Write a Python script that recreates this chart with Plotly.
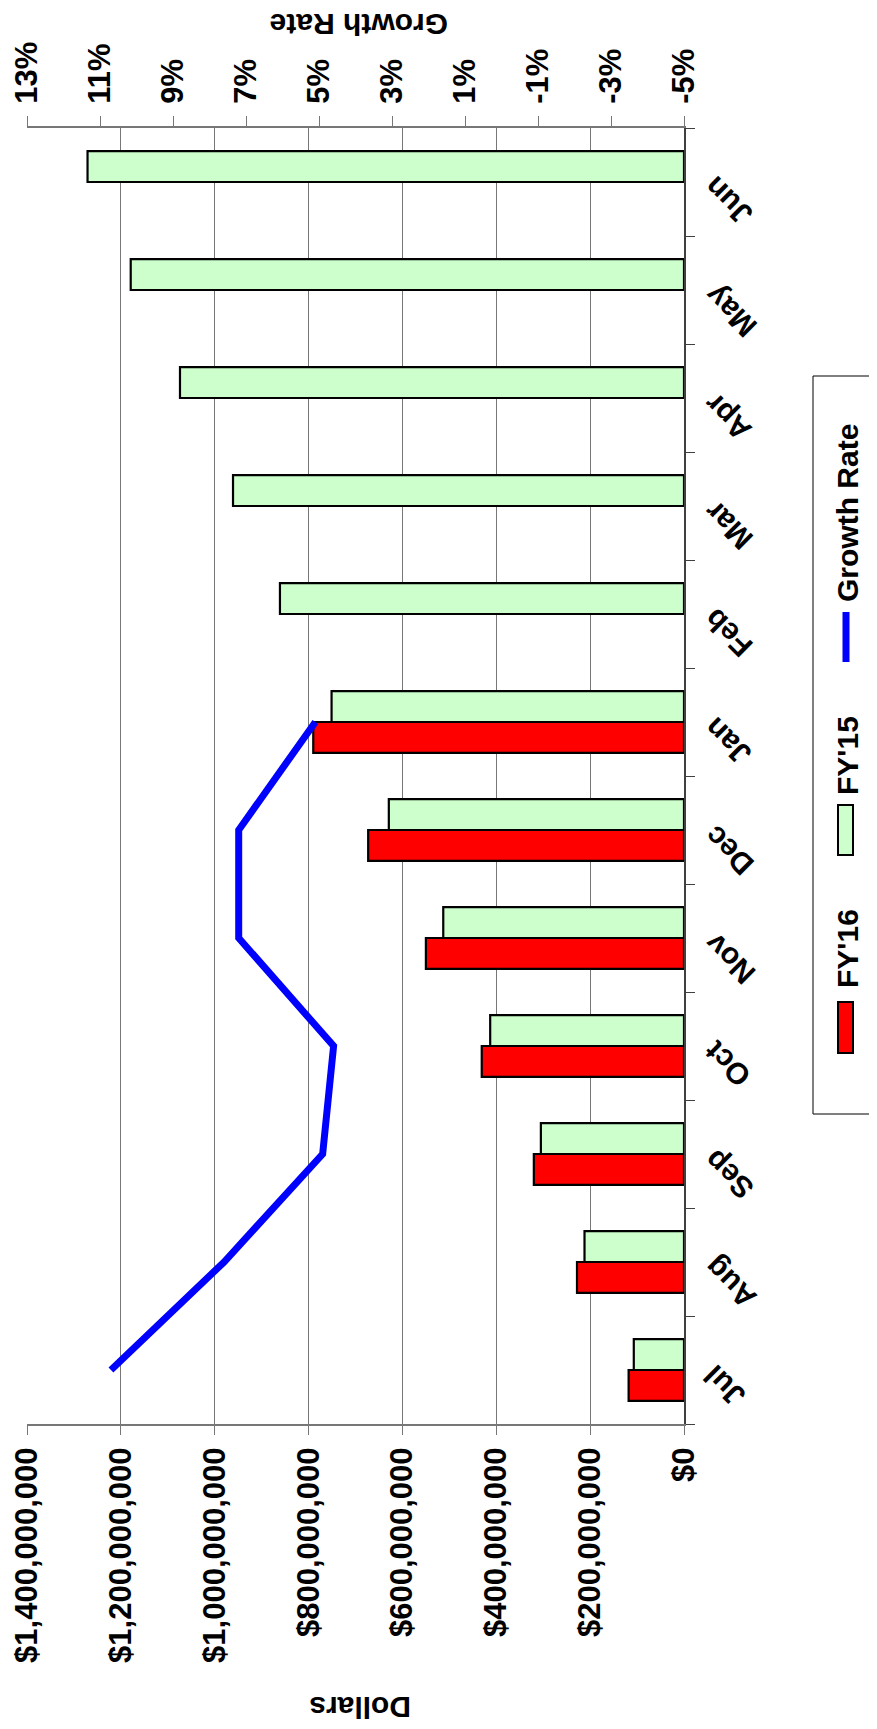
import plotly.graph_objects as go

# ---------------- data ----------------
months = ["Jul", "Aug", "Sep", "Oct", "Nov", "Dec", "Jan", "Feb", "Mar", "Apr", "May", "Jun"]
fy16 = [118e6, 228e6, 320e6, 431e6, 550e6, 673e6, 790e6]
fy15 = [107e6, 212e6, 305e6, 413e6, 513e6, 629e6, 751e6, 861e6, 961e6, 1074e6, 1179e6, 1271e6]
growth_months = ["Jul", "Aug", "Sep", "Oct", "Nov", "Dec", "Jan"]
growth = [10.7, 7.6, 4.9, 4.6, 7.2, 7.2, 5.1]
dollar_ticks = [0, 2e8, 4e8, 6e8, 8e8, 10e8, 12e8, 14e8]
dollar_ticktext = [f"${v:,.0f}" for v in dollar_ticks]
growth_ticks = [-5, -3, -1, 1, 3, 5, 7, 9, 11, 13]
growth_ticktext = [f"{v}%" for v in growth_ticks]

# ---------------- geometry ----------------
OFF = 8
W, H = 877 - OFF, 1729 - OFF
L, R, T, B = 27 - OFF, 684 - OFF, 128 - OFF, 1424 - OFF


def px(x):
    return ((x - OFF) - L) / (R - L)


def py(y):
    return (B - (y - OFF)) / (B - T)


FONT = "Arial, Liberation Sans, Helvetica, sans-serif"
bold = dict(family=FONT, size=30, color="black", weight="bold")
tickbold = dict(family=FONT, size=31, color="black", weight="bold")
GRAY = "#777777"

fig = go.Figure()
fig.add_trace(go.Bar(
    y=growth_months, x=fy16, orientation="h", name="FY'16",
    marker=dict(color="#FF0000", line=dict(color="black", width=2.2)),
))
fig.add_trace(go.Bar(
    y=months, x=fy15, orientation="h", name="FY'15",
    marker=dict(color="#CCFFCC", line=dict(color="black", width=2.2)),
))
fig.add_trace(go.Scatter(
    y=growth_months, x=growth, xaxis="x2", yaxis="y", mode="lines",
    name="Growth Rate", line=dict(color="#0000FF", width=7),
))

fig.update_layout(
    width=W, height=H,
    margin=dict(l=L, r=W - R, t=T, b=H - B, autoexpand=False),
    showlegend=False,
    barmode="group", bargap=0.4286, bargroupgap=0,
    plot_bgcolor="white", paper_bgcolor="white",
    font=dict(family=FONT, size=30, color="black"),
    xaxis=dict(
        range=[1.4e9, 0], tickvals=dollar_ticks, ticktext=dollar_ticktext,
        tickangle=-90, tickfont=tickbold, ticks="outside", ticklen=9,
        tickcolor=GRAY, tickwidth=1, showgrid=True, gridcolor=GRAY,
        gridwidth=1.4, showline=True, linecolor=GRAY, linewidth=2,
        zeroline=False, automargin=False,
    ),
    xaxis2=dict(
        overlaying="x", side="top", anchor="y", range=[13, -5],
        tickvals=growth_ticks, ticktext=growth_ticktext, tickangle=-90,
        tickfont=tickbold, ticks="outside", ticklen=10, tickcolor=GRAY,
        tickwidth=1, ticklabelstandoff=6,
        showgrid=False, showline=True, linecolor=GRAY, linewidth=2,
        zeroline=False, automargin=False,
    ),
    yaxis=dict(
        side="right", type="category", categoryorder="array",
        categoryarray=months, range=[-0.5, 11.5], showticklabels=False,
        ticks="outside", tickson="boundaries", ticklen=9,
        tickcolor="#404040", showline=True, linecolor="#404040",
        linewidth=2, showgrid=False, zeroline=False, automargin=False,
    ),
)

shapes = [
    dict(type="rect", xref="paper", yref="paper", x0=px(813), x1=px(873),
         y0=py(1114), y1=py(376), line=dict(color="black", width=1),
         fillcolor="white", layer="above"),
    dict(type="rect", xref="paper", yref="paper", x0=px(838), x1=px(853),
         y0=py(1053), y1=py(1002), line=dict(color="black", width=2),
         fillcolor="#FF0000", layer="above"),
    dict(type="rect", xref="paper", yref="paper", x0=px(838), x1=px(853),
         y0=py(855), y1=py(805), line=dict(color="black", width=2),
         fillcolor="#CCFFCC", layer="above"),
    dict(type="line", xref="paper", yref="paper", x0=px(846), x1=px(846),
         y0=py(662), y1=py(612), line=dict(color="#0000FF", width=7),
         layer="above"),
]

annotations = []
for txt, yc in [("FY'16", 949), ("FY'15", 756), ("Growth Rate", 513)]:
    annotations.append(dict(text=txt, x=px(847), y=py(yc), xref="paper",
                            yref="paper", textangle=-90, showarrow=False,
                            xanchor="center", yanchor="middle", font=bold))
annotations.append(dict(text="Dollars", x=px(360), y=py(1708), xref="paper",
                        yref="paper", textangle=180, showarrow=False,
                        xanchor="center", yanchor="middle", font=bold))
annotations.append(dict(text="Growth Rate", x=px(359), y=py(25), xref="paper",
                        yref="paper", textangle=180, showarrow=False,
                        xanchor="center", yanchor="middle", font=bold))
for m in months:
    annotations.append(dict(text=m, x=px(695), y=m, xref="paper", yref="y",
                            yshift=14, textangle=-135, showarrow=False,
                            xanchor="left", yanchor="top", font=bold))

fig.update_layout(shapes=shapes, annotations=annotations)

fig.write_html("out.html")
